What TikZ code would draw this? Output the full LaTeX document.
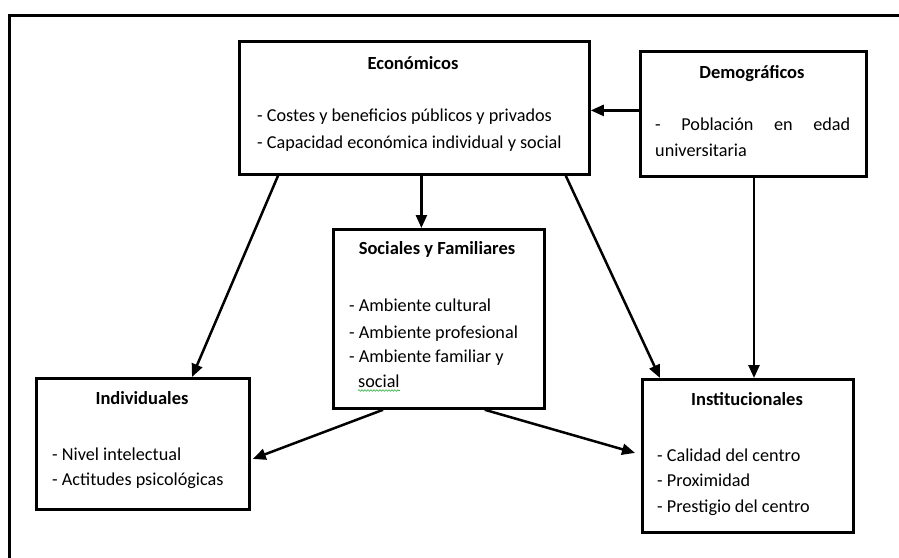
\documentclass[tikz,border=0pt]{standalone}
\usepackage{fontspec}
\setmainfont{Carlito}
\usetikzlibrary{arrows.meta,calc,decorations.pathmorphing}
\definecolor{spellgreen}{RGB}{40,170,60}
\begin{document}
\begin{tikzpicture}[x=1pt,y=-1pt,
  box/.style={draw,line width=2.8pt,inner sep=0pt,anchor=north west},
  ttl/.style={font=\fontsize{18.5}{22}\selectfont\bfseries,inner sep=0pt,anchor=base},
  item/.style={font=\fontsize{18.2}{22}\selectfont,inner sep=0pt,anchor=base west},
  link/.style={line width=2.5pt,-{Triangle[length=13pt,width=11pt]}}]
\useasboundingbox (0,0) rectangle (899,557);
% outer frame (only its top and left edges fall inside the page)
\draw[line width=3pt] (9,620) -- (9,15) -- (960,15);

% boxes
\node[box,minimum width=350pt,minimum height=133pt] (econ)  at (238,40)  {};
\node[box,minimum width=226pt,minimum height=125pt] (demog) at (639,50)  {};
\node[box,minimum width=211pt,minimum height=179pt] (soc)   at (332,228) {};
\node[box,minimum width=213pt,minimum height=131pt] (ind)   at (35,377)  {};
\node[box,minimum width=211pt,minimum height=153pt] (inst)  at (641,378) {};

% Económicos
\node[ttl]  (econT) at (413,69)  {Económicos};
\node[item] (econA) at (257,121) {- Costes y beneficios públicos y privados};
\node[item] (econB) at (257,148) {- Capacidad económica individual y social};

% Demográficos
\node[ttl]  (demT) at (752,78)  {Demográficos};
\node[item] (demA) at (655,130) {\makebox[195pt][s]{- Población en edad}};
\node[item] (demB) at (655,156) {universitaria};

% Sociales y Familiares
\node[ttl]  (socT) at (437,254) {Sociales y Familiares};
\node[item] (socA) at (349,311) {- Ambiente cultural};
\node[item] (socB) at (349,338) {- Ambiente profesional};
\node[item] (socC) at (349,362) {- Ambiente familiar y};
\node[item] (socD) at (358,387) {social};
\draw[spellgreen,line width=0.6pt,decorate,
      decoration={snake,segment length=3pt,amplitude=0.8pt}]
  ([yshift=-3.5pt]socD.base west) -- ([yshift=-3.5pt]socD.base east);

% Individuales
\node[ttl]  (indT) at (142,404) {Individuales};
\node[item] (indA) at (52,460)  {- Nivel intelectual};
\node[item] (indB) at (52,485)  {- Actitudes psicológicas};

% Institucionales
\node[ttl]  (instT) at (747,405) {Institucionales};
\node[item] (instA) at (657,461) {- Calidad del centro};
\node[item] (instB) at (657,486) {- Proximidad};
\node[item] (instC) at (657,512) {- Prestigio del centro};

% connectors
\draw[link] ([xshift=7pt]econ.south) -- ([xshift=7pt]econ.south |- soc.north);
\draw[link] ([xshift=40pt]econ.south west) -- ([xshift=157pt]ind.north west);
\draw[link] ([xshift=-25pt]econ.south east) -- ([xshift=19pt]inst.north west);
\draw[link] ([xshift=115pt]demog.south west) -- ([xshift=115pt]demog.south west |- inst.north);
\draw[link] ([yshift=3.5pt]demog.west) -- ([yshift=3.5pt]demog.west -| econ.east);
\draw[link] ([xshift=51pt]soc.south west) -- ([yshift=-15pt,xshift=2pt]ind.east);
\draw[link] ([xshift=-61pt]soc.south east) -- ([yshift=3pt,xshift=-6pt]inst.west);
\end{tikzpicture}
\end{document}
